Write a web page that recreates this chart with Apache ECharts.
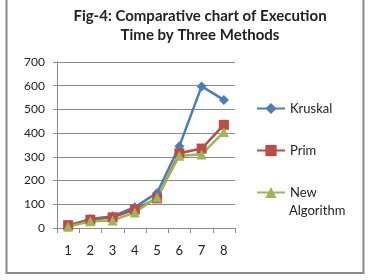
<!DOCTYPE html>
<html>
<head>
<meta charset="utf-8">
<script src="https://cdn.jsdelivr.net/npm/echarts@6/dist/echarts.min.js"></script>
<style>
body { margin: 0; padding: 0; background: #fff; }
#main { width: 368px; height: 280px; }
</style>
</head>
<body>
<div id="main"></div>
<script>
// chart data
var categories = ['1', '2', '3', '4', '5', '6', '7', '8']
var kruskal = [9, 38, 50, 88, 148, 345, 597, 540]
var prim = [12, 35, 45, 78, 125, 315, 335, 435]
var newAlgo = [5, 28, 32, 65, 130, 305, 310, 405]

var myChart = echarts.init(document.getElementById('main'))
var font = 'Lato'
var legendText = { fontFamily: font, fontSize: 13, color: '#222' }
var option = {
  animation: false,
  backgroundColor: '#fff',
  title: {
    text: 'Fig-4: Comparative chart of Execution\nTime by Three Methods',
    left: 195,
    top: 2,
    textAlign: 'center',
    textStyle: {
      fontFamily: font,
      fontSize: 15,
      fontWeight: 'bold',
      color: '#222',
      lineHeight: 19
    }
  },
  graphic: [{
    type: 'rect',
    shape: { x: 6.5, y: -5, width: 357, height: 278 },
    style: { fill: 'none', stroke: '#8c8c8c', lineWidth: 2 }
  }, {
    // second line of the third legend entry
    type: 'text',
    left: 289,
    top: 204,
    style: { text: 'Algorithm', font: '13px Lato', fill: '#222' }
  }],
  legend: [{
    orient: 'vertical',
    left: 256,
    top: 102,
    padding: 0,
    itemWidth: 28,
    itemHeight: 14,
    itemGap: 29,
    data: ['Kruskal', 'Prim'],
    textStyle: legendText
  }, {
    orient: 'vertical',
    left: 256,
    top: 186,
    padding: 0,
    itemWidth: 28,
    itemHeight: 14,
    data: ['New Algorithm'],
    formatter: function () { return 'New' },
    textStyle: legendText
  }],
  grid: { left: 57, right: 133, top: 62, bottom: 52 },
  xAxis: {
    type: 'category',
    data: categories,
    boundaryGap: true,
    axisLine: { lineStyle: { color: '#8c8c8c' } },
    axisTick: { show: true, length: 5, lineStyle: { color: '#8c8c8c' } },
    axisLabel: { fontFamily: font, fontSize: 13, color: '#222', margin: 16 }
  },
  yAxis: {
    type: 'value',
    min: 0,
    max: 700,
    interval: 100,
    axisLine: { show: true, lineStyle: { color: '#8c8c8c' } },
    axisTick: { show: true, length: 4, lineStyle: { color: '#8c8c8c' } },
    splitLine: { lineStyle: { color: '#8c8c8c' } },
    axisLabel: { fontFamily: font, fontSize: 12, color: '#222', margin: 12 }
  },
  series: [{
    name: 'Kruskal',
    type: 'line',
    data: kruskal,
    symbol: 'diamond',
    symbolSize: 10,
    color: '#4A7EBB',
    lineStyle: { width: 2.5 }
  }, {
    name: 'Prim',
    type: 'line',
    data: prim,
    symbol: 'rect',
    symbolSize: 10,
    color: '#BE4B48',
    lineStyle: { width: 2.5 }
  }, {
    name: 'New Algorithm',
    type: 'line',
    data: newAlgo,
    symbol: 'triangle',
    symbolSize: 10,
    color: '#98B954',
    lineStyle: { width: 2.5 }
  }]
}
myChart.setOption(option)
</script>
</body>
</html>
